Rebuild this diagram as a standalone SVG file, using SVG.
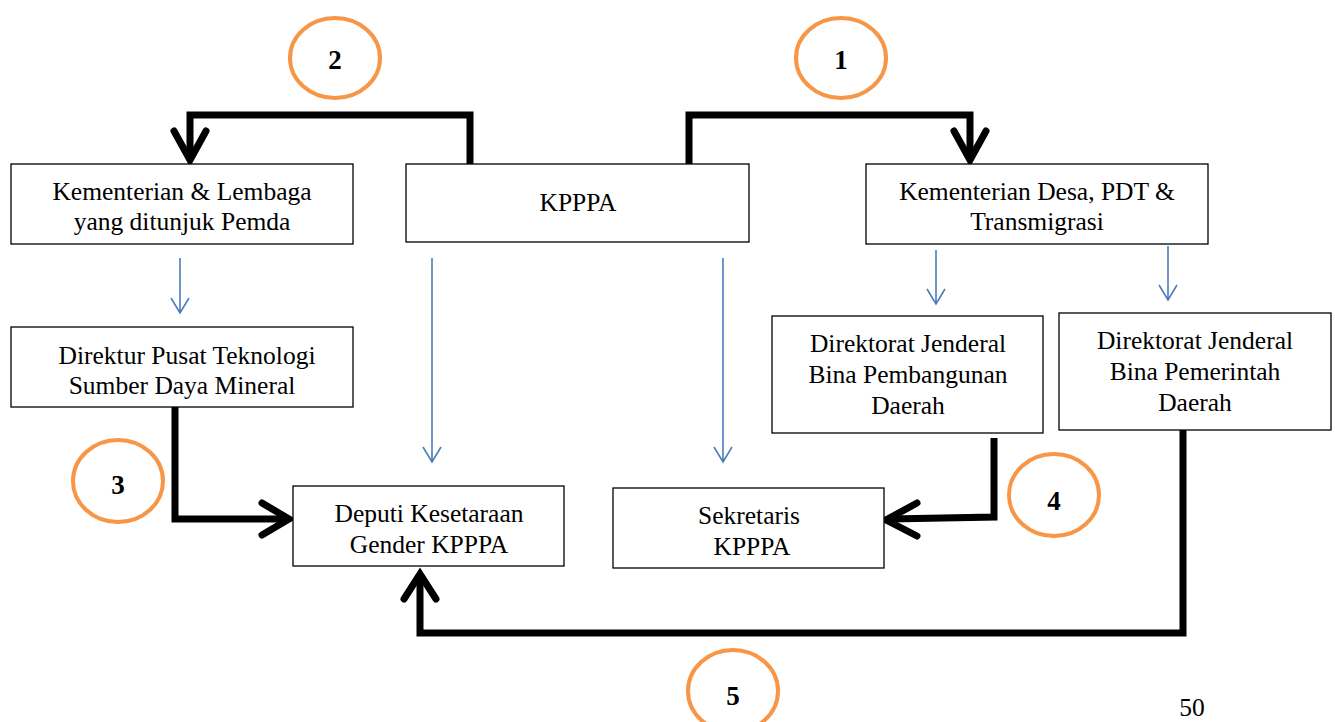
<svg xmlns="http://www.w3.org/2000/svg" width="1335" height="722" viewBox="0 0 1335 722">
<style>
.box{fill:#fff;stroke:#000;stroke-width:1.3}
.t{font-family:"Liberation Serif","Times New Roman",serif;font-size:25.5px;fill:#000;text-anchor:middle}
.n{font-family:"Liberation Serif","Times New Roman",serif;font-size:27px;font-weight:bold;fill:#000;text-anchor:middle}
.c{fill:none;stroke:#F79646;stroke-width:4}
.k{fill:none;stroke:#000;stroke-width:7}
.kh{fill:none;stroke:#000;stroke-width:7;stroke-linecap:round;stroke-linejoin:miter}
.b{fill:none;stroke:#4A7EBB;stroke-width:1.6}
</style>
<rect width="1335" height="722" fill="#fff"/>
<g id="connectors">
  <path class="k" d="M470 164 V115 H190 V158"/>
  <polyline class="kh" points="174,131 190,160 206,131"/>
  <path class="k" d="M689 164 V115 H970 V158"/>
  <polyline class="kh" points="954,131 970,160 986,131"/>
  <path class="k" d="M175 407 V519 H285"/>
  <polyline class="kh" points="262,503 289,519 262,535"/>
  <path class="k" d="M994 438 V517 L890 519"/>
  <polyline class="kh" points="917,503 886,520 917,536"/>
  <path class="k" d="M1183 430 V633 H420 V578"/>
  <polyline class="kh" points="404,599 420,574 436,599"/>
  <g class="b">
    <path d="M180 258 V313 M171 298 L180 313 L189 298"/>
    <path d="M432 258 V462 M423 447 L432 462 L441 447"/>
    <path d="M723 258 V462 M714 447 L723 462 L732 447"/>
    <path d="M936 250 V304 M927 289 L936 304 L945 289"/>
    <path d="M1168 246 V300 M1159 285 L1168 300 L1177 285"/>
  </g>
</g>
<g id="node-kl">
  <rect class="box" x="11" y="164" width="342" height="80"/>
  <text class="t" x="182" y="200">Kementerian &amp; Lembaga</text>
  <text class="t" x="182" y="230">yang ditunjuk Pemda</text>
</g>
<g id="node-kpppa">
  <rect class="box" x="406" y="164" width="343" height="78"/>
  <text class="t" x="578" y="211">KPPPA</text>
</g>
<g id="node-desa">
  <rect class="box" x="866" y="164" width="342" height="80"/>
  <text class="t" x="1037" y="200">Kementerian Desa, PDT &amp;</text>
  <text class="t" x="1037" y="230">Transmigrasi</text>
</g>
<g id="node-direktur">
  <rect class="box" x="11" y="327" width="342" height="80"/>
  <text class="t" x="187" y="364">Direktur Pusat Teknologi</text>
  <text class="t" x="182" y="394">Sumber Daya Mineral</text>
</g>
<g id="node-pembangunan">
  <rect class="box" x="772" y="316" width="271" height="117"/>
  <text class="t" x="908" y="352">Direktorat Jenderal</text>
  <text class="t" x="908" y="383">Bina Pembangunan</text>
  <text class="t" x="908" y="414">Daerah</text>
</g>
<g id="node-pemerintah">
  <rect class="box" x="1059" y="313" width="272" height="117"/>
  <text class="t" x="1195" y="349">Direktorat Jenderal</text>
  <text class="t" x="1195" y="380">Bina Pemerintah</text>
  <text class="t" x="1195" y="411">Daerah</text>
</g>
<g id="node-deputi">
  <rect class="box" x="293" y="486" width="271" height="80"/>
  <text class="t" x="429" y="522">Deputi Kesetaraan</text>
  <text class="t" x="429" y="553">Gender KPPPA</text>
</g>
<g id="node-sekretaris">
  <rect class="box" x="613" y="488" width="271" height="80"/>
  <text class="t" x="749" y="524">Sekretaris</text>
  <text class="t" x="752" y="555">KPPPA</text>
</g>
<g id="badge-1">
  <ellipse class="c" cx="841" cy="58" rx="45" ry="40"/>
  <text class="n" x="841" y="69">1</text>
</g>
<g id="badge-2">
  <ellipse class="c" cx="335" cy="58" rx="45" ry="40"/>
  <text class="n" x="335" y="69">2</text>
</g>
<g id="badge-3">
  <ellipse class="c" cx="118" cy="481" rx="45" ry="41"/>
  <text class="n" x="118" y="494">3</text>
</g>
<g id="badge-4">
  <ellipse class="c" cx="1054" cy="495" rx="45" ry="41"/>
  <text class="n" x="1054" y="510">4</text>
</g>
<g id="badge-5">
  <ellipse class="c" cx="733" cy="691" rx="45" ry="41"/>
  <text class="n" x="733" y="705">5</text>
</g>
<text class="t" x="1192" y="716">50</text>
</svg>
